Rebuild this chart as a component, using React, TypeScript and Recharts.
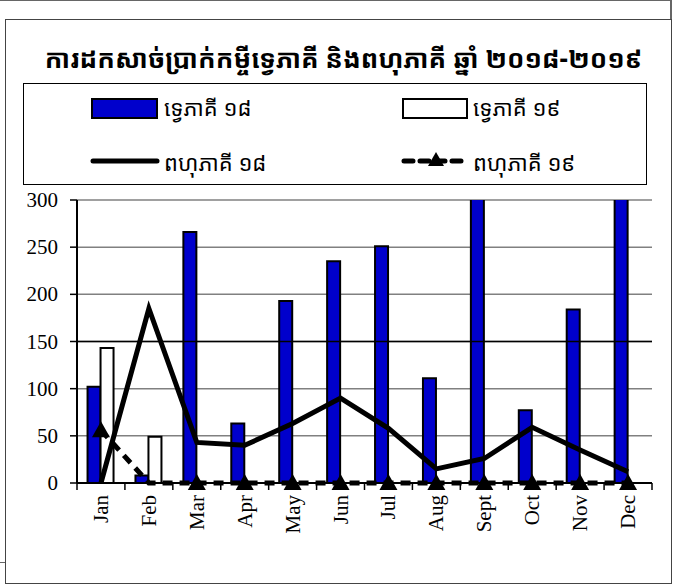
import React from "react";
import {
	Bar,
	CartesianGrid,
	ComposedChart,
	Line,
	ReferenceLine,
	XAxis,
	YAxis,
} from "recharts";

const months = ["Jan", "Feb", "Mar", "Apr", "May", "Jun", "Jul", "Aug", "Sept", "Oct", "Nov", "Dec"];
// values above 300 run off the top of the plot in the original
const bilateral18 = [102, 8, 266, 63, 193, 235, 251, 111, 330, 77, 184, 330];
const bilateral19 = [143, 49, 0, 0, 0, 0, 0, 0, 0, 0, 0, 0];
const multilateral18 = [0, 185, 43, 40, 63, 90, 58, 15, 26, 59, 35, 12];
const multilateral19 = [56, 0, 0, 0, 0, 0, 0, 0, 0, 0, 0, 0];
const yTicks = [0, 50, 100, 150, 200, 250, 300];

const TITLE = "ការដកសាច់ប្រាក់កម្ចីទ្វេភាគី និងពហុភាគី ឆ្នាំ ២០១៨-២០១៩";
const NAMES = ["ទ្វេភាគី ១៨", "ទ្វេភាគី ១៩", "ពហុភាគី ១៨", "ពហុភាគី ១៩"];

const BLUE = "#0000CC";
const W = 679;
const H = 586;
const MARGIN = { top: 200, right: 27, bottom: 43, left: 0 };
const Y_AXIS_W = 77;
const PLOT_W = W - MARGIN.left - MARGIN.right - Y_AXIS_W;
const BAND = PLOT_W / months.length;

const SERIF = "Liberation Serif, Times New Roman, serif";
const KHMER = "'Khmer OS Muol Light', 'Noto Sans Khmer', 'Khmer OS', 'Noto Serif Khmer', serif";

const data = months.map((m, i) => ({
	month: m,
	b18: bilateral18[i],
	b19: bilateral19[i],
	m18: multilateral18[i],
	m19: multilateral19[i],
}));

function MonthTick(props: any) {
	const { x, y, payload, index } = props;
	const left = x - BAND / 2;
	const right = x + BAND / 2;
	return (
		<g>
			<line x1={left} x2={left} y1={y} y2={y + 7} stroke="#000" strokeWidth={1.5} />
			{index === months.length - 1 && (
				<line x1={right} x2={right} y1={y} y2={y + 7} stroke="#000" strokeWidth={1.5} />
			)}
			<text
				x={x}
				y={y + 12}
				transform={`rotate(-90, ${x}, ${y + 12})`}
				textAnchor="end"
				dominantBaseline="central"
				style={{ fontFamily: SERIF, fontSize: 21 }}
				fill="#000"
			>
				{payload.value}
			</text>
		</g>
	);
}

function ValueTick(props: any) {
	const { x, y, payload } = props;
	return (
		<text
			x={x}
			y={y}
			textAnchor="end"
			dominantBaseline="central"
			style={{ fontFamily: SERIF, fontSize: 21 }}
			fill="#000"
		>
			{payload.value}
		</text>
	);
}

function TriangleDot(props: any) {
	const { cx, cy, index } = props;
	if (cx == null || cy == null || index === 1) return <g key={`t-${index}`} />;
	return (
		<path
			key={`t-${index}`}
			d={`M${cx},${cy - 9} L${cx + 9},${cy + 7} L${cx - 9},${cy + 7} Z`}
			fill="#000"
		/>
	);
}

const legendText: React.CSSProperties = {
	position: "absolute",
	fontFamily: KHMER,
	fontSize: 22,
	lineHeight: "26px",
	whiteSpace: "nowrap",
};

function ChartLegend() {
	return (
		<div
			style={{
				position: "absolute",
				left: 23,
				top: 83,
				width: 622,
				height: 100,
				border: "1.5px solid #000",
				background: "#fff",
			}}
		>
			<div style={{ position: "absolute", left: 67, top: 14, width: 63, height: 17, background: BLUE, border: "2px solid #000" }} />
			<div style={{ ...legendText, left: 140, top: 10 }}>{NAMES[0]}</div>
			<div style={{ position: "absolute", left: 378, top: 14, width: 62, height: 17, background: "#fff", border: "2px solid #000" }} />
			<div style={{ ...legendText, left: 449, top: 10 }}>{NAMES[1]}</div>
			<svg style={{ position: "absolute", left: 66, top: 65 }} width={70} height={24}>
				<line x1={3} x2={67} y1={12} y2={12} stroke="#000" strokeWidth={5} strokeLinecap="round" />
			</svg>
			<div style={{ ...legendText, left: 140, top: 65 }}>{NAMES[2]}</div>
			<svg style={{ position: "absolute", left: 377, top: 65 }} width={70} height={24}>
				<line x1={3} x2={67} y1={12} y2={12} stroke="#000" strokeWidth={5} strokeDasharray="9 7" strokeLinecap="round" />
				<path d="M35,3 L43,17 L27,17 Z" fill="#000" />
			</svg>
			<div style={{ ...legendText, left: 449, top: 65 }}>{NAMES[3]}</div>
		</div>
	);
}

export default function App() {
	return (
		<div style={{ position: "absolute", left: 0, top: 0, width: W, height: H, background: "#fff" }}>
			{/* page frame bits */}
			<div style={{ position: "absolute", left: 0, top: 0, width: 672, height: 1, background: "#666" }} />
			<div style={{ position: "absolute", left: 670, top: 0, width: 1.5, height: 20, background: "#666" }} />
			<div style={{ position: "absolute", left: 0, top: 562, width: 6, height: 1, background: "#666" }} />
			{/* chart area box */}
			<div
				style={{
					position: "absolute",
					left: 5,
					top: 19,
					width: 665,
					height: 563,
					border: "1.5px solid #444",
				}}
			/>
			<div
				style={{
					position: "absolute",
					left: 11,
					top: 38,
					width: 665,
					textAlign: "center",
					fontFamily: KHMER,
					fontWeight: "bold",
					fontSize: 26,
					lineHeight: "40px",
					whiteSpace: "nowrap",
				}}
			>
				{TITLE}
			</div>
			<ChartLegend />
			<div style={{ position: "absolute", left: 0, top: 0 }}>
				<ComposedChart
					width={W}
					height={H}
					data={data}
					margin={MARGIN}
					barCategoryGap="22%"
					barGap={0}
				>
					<CartesianGrid vertical={false} stroke="#808080" strokeWidth={1.5} />
					<ReferenceLine y={150} stroke="#000" strokeWidth={1.5} />
					<XAxis
						dataKey="month"
						height={60}
						interval={0}
						tickSize={0}
						tickMargin={0}
						tickLine={false}
						axisLine={{ stroke: "#000", strokeWidth: 2 }}
						tick={<MonthTick />}
					/>
					<YAxis
						width={Y_AXIS_W}
						domain={[0, 300]}
						ticks={yTicks}
						allowDataOverflow
						interval={0}
						tickSize={7}
						tickMargin={12}
						axisLine={{ stroke: "#000", strokeWidth: 2 }}
						tickLine={{ stroke: "#000", strokeWidth: 1.5 }}
						tick={<ValueTick />}
					/>
					<YAxis
						yAxisId="edge"
						orientation="right"
						width={0}
						domain={[0, 300]}
						tick={false}
						tickLine={false}
						axisLine={{ stroke: "#808080", strokeWidth: 1.5 }}
					/>
					<Bar dataKey="b18" name={NAMES[0]} fill={BLUE} stroke="#000" strokeWidth={2} isAnimationActive={false} />
					<Bar dataKey="b19" name={NAMES[1]} fill="#fff" stroke="#000" strokeWidth={2} isAnimationActive={false} />
					<Line
						yAxisId="edge"
						dataKey="m18"
						name={NAMES[2]}
						type="linear"
						stroke="#000"
						strokeWidth={5}
						dot={false}
						isAnimationActive={false}
					/>
					<Line
						yAxisId="edge"
						dataKey="m19"
						name={NAMES[3]}
						type="linear"
						stroke="#000"
						strokeWidth={5}
						strokeDasharray="10 7"
						dot={<TriangleDot />}
						isAnimationActive={false}
					/>
				</ComposedChart>
			</div>
		</div>
	);
}
